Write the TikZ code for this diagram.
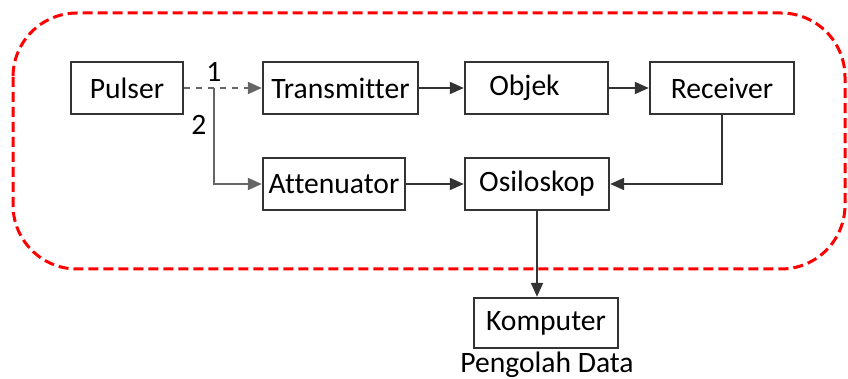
\documentclass[tikz,border=0pt]{standalone}
\usepackage{fontspec}
\setmainfont{Carlito}[Ligatures=NoCommon]
\usetikzlibrary{arrows.meta}

\begin{document}
\begin{tikzpicture}[x=0.5pt,y=-0.5pt]
\tikzstyle{every node}+=[inner sep=0pt]
\tikzstyle{blok}=[draw=black!80, line width=1.2pt, minimum height=26pt, font=\fontsize{14.8}{16}\selectfont]
\tikzstyle{panah}=[draw=black!80, line width=1pt, -{Triangle[length=7pt,width=6pt]}]
\tikzstyle{teks}=[font=\fontsize{14.8}{16}\selectfont]
\useasboundingbox (0,0) rectangle (848,379);
% batas sistem
\draw [red, line width=1.5pt, dash pattern=on 5pt off 2.5pt, rounded corners=32pt] (13,13) rectangle (845,269);
% blok
\node [blok, minimum width=56pt] (pulser) at (127,88) {Pulser};
\node [blok, minimum width=77.5pt] (transmitter) at (340.5,88) {Transmitter};
\node [blok, minimum width=71.5pt] (objek) at (536.5,88) {Objek\kern12pt};
\node [blok, minimum width=72pt] (receiver) at (722,88) {Receiver};
\node [blok, minimum width=71pt] (attenuator) at (334,184) {Attenuator};
\node [blok, minimum width=72pt] (osiloskop) at (537,184) {Osiloskop};
\node [blok, minimum width=72pt, minimum height=25pt] (komputer) at (546,323) {Komputer};
\node [teks] (pengolah) at (547,365) {Pengolah Data};
% percabangan
\coordinate (cabang) at (214,88);
\node [teks] (satu) at (214,72) {1};
\node [teks] (dua) at (199,125) {2};
% panah
\draw [panah, draw=black!60, dashed] (pulser.east) -- (transmitter.west);
\draw [panah, draw=black!60] (cabang) |- (attenuator.west);
\draw [panah] (transmitter) -- (objek);
\draw [panah] (objek) -- (receiver);
\draw [panah] (attenuator) -- (osiloskop);
\draw [panah] (receiver.south) |- (osiloskop.east);
\draw [panah] (osiloskop.south) -- (osiloskop.south |- komputer.north);
\end{tikzpicture}
\end{document}
